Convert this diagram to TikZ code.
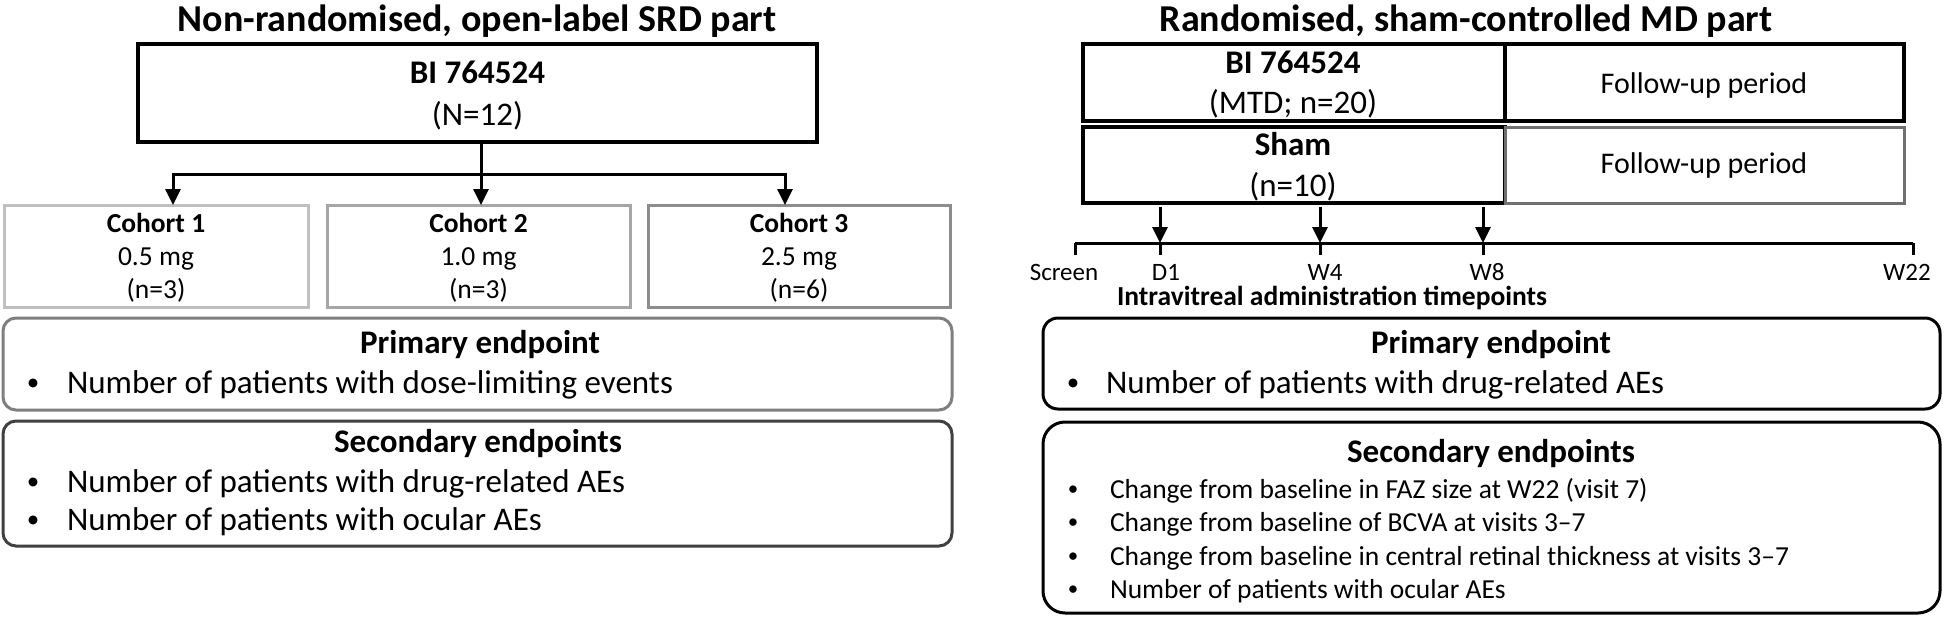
\documentclass[tikz,border=0pt]{standalone}
\usepackage{fontspec}
\setmainfont{Carlito}
\usetikzlibrary{arrows.meta}
\newcommand{\ftitle}{\fontsize{38}{46}\selectfont\bfseries}
\newcommand{\fbody}{\fontsize{33}{40}\selectfont}
\newcommand{\fcoh}{\fontsize{27.5}{33}\selectfont}
\newcommand{\ffu}{\fontsize{30}{36}\selectfont}
\newcommand{\ftick}{\fontsize{25}{30}\selectfont}
\newcommand{\fbulA}{\fontsize{25}{30}\selectfont}
\newcommand{\fbulB}{\fontsize{21}{26}\selectfont}
\definecolor{cA}{HTML}{BFBFBF}
\definecolor{cB}{HTML}{A6A6A6}
\definecolor{cC}{HTML}{8C8C8C}
\definecolor{cP}{HTML}{7F7F7F}
\definecolor{cS}{HTML}{404040}
\definecolor{cF}{HTML}{707070}
\begin{document}
\begin{tikzpicture}[x=1pt,y=-1pt,
  every node/.style={inner sep=0pt,outer sep=0pt},
  txt/.style={anchor=base},
  txtw/.style={anchor=base west},
  frame/.style={draw,line width=3pt},
  conn/.style={line width=3pt,-{Triangle[length=16pt,width=15pt]}},
  plain/.style={line width=3pt}]
\useasboundingbox (0,0) rectangle (1944,619);
\fill[white] (0,0) rectangle (1944,619);

% ---------------- left part ----------------
\node[txt,font=\ftitle] (titL) at (477,31) {Non-randomised, open-label SRD part};
\node[frame,line width=3.5pt,minimum width=679pt,minimum height=98pt] (biL) at (477.5,93) {};
\node[txt,font=\fbody\bfseries] (biLt) at (477.5,83) {BI 764524};
\node[txt,font=\fbody] (biLn) at (477.5,125) {(N=12)};

\node[frame,draw=cA,minimum width=304pt,minimum height=102pt] (c1) at (156,256) {};
\node[frame,draw=cB,minimum width=303pt,minimum height=102pt] (c2) at (478.5,256) {};
\node[frame,draw=cC,minimum width=302pt,minimum height=102pt] (c3) at (799,256) {};
\node[txt,font=\fcoh\bfseries] (c1a) at (156,232) {Cohort 1};
\node[txt,font=\fcoh] (c1b) at (156,265) {0.5 mg};
\node[txt,font=\fcoh] (c1c) at (156,298) {(n=3)};
\node[txt,font=\fcoh\bfseries] (c2a) at (478.5,232) {Cohort 2};
\node[txt,font=\fcoh] (c2b) at (478.5,265) {1.0 mg};
\node[txt,font=\fcoh] (c2c) at (478.5,298) {(n=3)};
\node[txt,font=\fcoh\bfseries] (c3a) at (799,232) {Cohort 3};
\node[txt,font=\fcoh] (c3b) at (799,265) {2.5 mg};
\node[txt,font=\fcoh] (c3c) at (799,298) {(n=6)};

\coordinate (split) at (481,174);
\coordinate (a1) at (173,174);
\coordinate (a3) at (785,174);
\draw[plain] (split |- biL.south) -- (split);
\draw[conn] (split) -- (split |- c2.north);
\draw[conn] (split) -| (a1 |- c1.north);
\draw[conn] (split) -| (a3 |- c3.north);

\node[frame,draw=cP,rounded corners=13pt,minimum width=949pt,minimum height=92pt] (primL) at (477.5,364) {};
\node[txt,font=\fbody\bfseries] (primLt) at (480,353) {Primary endpoint};
\node[txt,font=\fbulA] (primLb) at (33,390) {•};
\node[txtw,font=\fbody] (primL1) at (67,393) {Number of patients with dose-limiting events};

\node[frame,draw=cS,rounded corners=13pt,minimum width=949pt,minimum height=125pt] (secL) at (477.5,483.5) {};
\node[txt,font=\fbody\bfseries] (secLt) at (478,452) {Secondary endpoints};
\node[txt,font=\fbulA] (secLb1) at (33,489) {•};
\node[txtw,font=\fbody] (secL1) at (67,492) {Number of patients with drug-related AEs};
\node[txt,font=\fbulA] (secLb2) at (33,527) {•};
\node[txtw,font=\fbody] (secL2) at (67,530) {Number of patients with ocular AEs};

% ---------------- right part ----------------
\node[txt,font=\ftitle] (titR) at (1466,31) {Randomised, sham-controlled MD part};
\node[frame,line width=3.5pt,minimum width=422pt,minimum height=77pt] (biR) at (1294,82.5) {};
\node[frame,line width=3.5pt,minimum width=399pt,minimum height=77pt] (fuR1) at (1704.5,82.5) {};
\node[frame,line width=3.5pt,minimum width=422pt,minimum height=76pt] (shR) at (1294,165) {};
\node[frame,draw=cF,minimum width=399pt,minimum height=76pt] (fuR2) at (1704.5,165) {};
\node[txt,font=\fbody\bfseries] (biRt) at (1293,73) {BI 764524};
\node[txt,font=\fbody] (biRn) at (1293,113) {(MTD; n=20)};
\node[txt,font=\fbody\bfseries] (shRt) at (1293,155) {Sham};
\node[txt,font=\fbody] (shRn) at (1293,196) {(n=10)};
\node[txt,font=\ffu] (fuR1t) at (1704,93) {Follow-up period};
\node[txt,font=\ffu] (fuR2t) at (1704,173) {Follow-up period};

\coordinate (tS) at (1075,243);
\coordinate (tD) at (1160,243);
\coordinate (tW4) at (1320,243);
\coordinate (tW8) at (1483,243);
\coordinate (tE) at (1913,243);
\draw[plain] (tS) -- (tE);
\foreach \p in {tS,tD,tW4,tW8,tE} \draw[plain] (\p) -- ++(0,12);
\foreach \p in {tD,tW4,tW8} \draw[conn] (\p) ++(0,-36) -- (\p);

\node[txt,font=\ftick] (lS) at (1064,280) {Screen};
\node[txt,font=\ftick] (lD) at (1166,280) {D1};
\node[txt,font=\ftick] (lW4) at (1325,280) {W4};
\node[txt,font=\ftick] (lW8) at (1487,280) {W8};
\node[txt,font=\ftick] (lE) at (1907,280) {W22};
\node[txt,font=\fcoh\bfseries] (ivt) at (1332,305) {Intravitreal administration timepoints};

\node[frame,rounded corners=15pt,minimum width=897pt,minimum height=91pt] (primR) at (1491.5,363.5) {};
\node[txt,font=\fbody\bfseries] (primRt) at (1491,353) {Primary endpoint};
\node[txt,font=\fbulA] (primRb) at (1073,390) {•};
\node[txtw,font=\fbody] (primR1) at (1106,393) {Number of patients with drug-related AEs};

\node[frame,rounded corners=22pt,minimum width=897pt,minimum height=191pt] (secR) at (1491.5,517.5) {};
\node[txt,font=\fbody\bfseries] (secRt) at (1491,462) {Secondary endpoints};
\node[txt,font=\fbulB] (secRb1) at (1073,495.5) {•};
\node[txtw,font=\fcoh] (secR1) at (1110,498) {Change from baseline in FAZ size at W22 (visit 7)};
\node[txt,font=\fbulB] (secRb2) at (1073,528.5) {•};
\node[txtw,font=\fcoh] (secR2) at (1110,531) {Change from baseline of BCVA at visits 3–7};
\node[txt,font=\fbulB] (secRb3) at (1073,562.5) {•};
\node[txtw,font=\fcoh] (secR3) at (1110,565) {Change from baseline in central retinal thickness at visits 3–7};
\node[txt,font=\fbulB] (secRb4) at (1073,595.5) {•};
\node[txtw,font=\fcoh] (secR4) at (1110,598) {Number of patients with ocular AEs};
\end{tikzpicture}
\end{document}
